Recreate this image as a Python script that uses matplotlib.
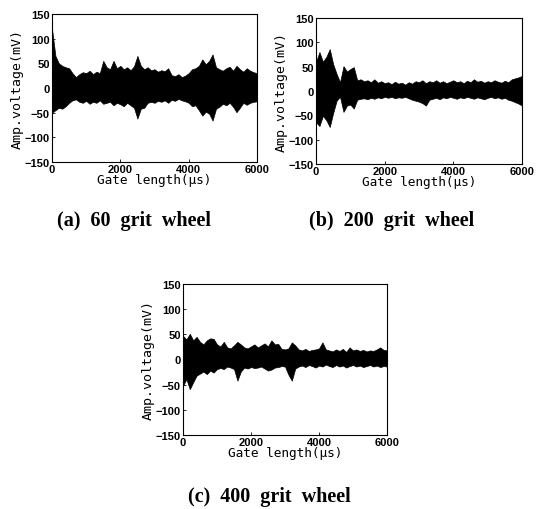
import numpy as np
import matplotlib
matplotlib.use("Agg")
import matplotlib.pyplot as plt

# gate time axis (us), envelope sampled every 100 us
t = np.arange(0, 6001, 100)

# (a) 60 grit wheel - upper / lower envelope of the AE signal (mV)
a_up = [120, 65, 50, 45, 42, 40, 30, 22, 28, 32, 30, 35, 28, 33, 30, 55, 42, 38, 55, 40,
        45, 38, 42, 36, 44, 65, 45, 38, 42, 36, 38, 33, 36, 34, 40, 26, 24, 28, 22, 25,
        30, 38, 40, 45, 58, 48, 55, 68, 42, 38, 35, 40, 43, 35, 45, 38, 33, 40, 35, 32, 30]
a_lo = [-50, -45, -40, -42, -37, -30, -25, -23, -28, -30, -26, -32, -28, -30, -25, -32, -30, -28, -35, -30,
        -33, -37, -30, -35, -40, -62, -42, -40, -30, -28, -30, -26, -28, -25, -30, -24, -26, -22, -25, -27,
        -30, -37, -35, -45, -56, -48, -52, -66, -42, -38, -32, -35, -30, -38, -49, -40, -30, -34, -30, -28, -27]

# (b) 200 grit wheel
b_up = [60, 80, 60, 70, 86, 55, 35, 18, 51, 40, 45, 49, 22, 24, 20, 22, 18, 24, 17, 20,
        16, 18, 14, 19, 15, 17, 13, 18, 15, 20, 18, 22, 16, 20, 18, 22, 17, 20, 16, 19,
        22, 18, 20, 16, 21, 18, 24, 19, 21, 17, 20, 18, 22, 19, 17, 21, 18, 24, 26, 28, 31]
b_lo = [-64, -72, -51, -60, -74, -45, -20, -12, -43, -30, -28, -36, -18, -16, -15, -17, -14, -16, -13, -15,
        -12, -14, -12, -15, -13, -14, -12, -15, -18, -20, -22, -25, -30, -18, -16, -14, -17, -13, -15, -12,
        -14, -16, -13, -15, -12, -14, -16, -13, -15, -17, -14, -12, -15, -13, -16, -14, -18, -20, -23, -26, -30]

# (c) 400 grit wheel
c_up = [47, 40, 51, 38, 45, 35, 30, 38, 42, 41, 30, 26, 35, 24, 22, 28, 35, 30, 24, 22,
        26, 30, 24, 28, 32, 26, 38, 30, 31, 21, 20, 22, 34, 28, 20, 18, 21, 17, 19, 20,
        22, 34, 20, 18, 16, 20, 17, 21, 15, 24, 18, 20, 17, 19, 16, 18, 17, 20, 24, 19, 18]
c_lo = [-52, -39, -59, -45, -32, -28, -24, -29, -22, -26, -19, -17, -19, -14, -16, -19, -42, -24, -16, -18,
        -15, -17, -16, -14, -18, -22, -20, -16, -15, -13, -14, -30, -42, -18, -14, -12, -15, -11, -13, -16,
        -12, -14, -10, -13, -15, -11, -14, -12, -16, -13, -11, -14, -12, -15, -13, -11, -14, -12, -15, -13, -14]

captions = ["(a)  60  grit  wheel", "(b)  200  grit  wheel", "(c)  400  grit  wheel"]
yticks = [-150, -100, -50, 0, 50, 100, 150]
xticks = [0, 2000, 4000, 6000]

fig = plt.figure(figsize=(5.4, 5.1), dpi=100)
boxes = [[0.0963, 0.6804, 0.3796, 0.2902],
         [0.5852, 0.6765, 0.3815, 0.2863],
         [0.3389, 0.1451, 0.3778, 0.2961]]
caption_pos = [(0.248, 0.548), (0.726, 0.548), (0.498, 0.006)]
series = [(a_up, a_lo), (b_up, b_lo), (c_up, c_lo)]

for box, (up, lo), cap, cpos in zip(boxes, series, captions, caption_pos):
    ax = fig.add_axes(box)
    ax.fill_between(t, lo, up, color="black", linewidth=0.5)
    ax.set_xlim(0, 6000)
    ax.set_ylim(-150, 150)
    ax.set_xticks(xticks)
    ax.set_yticks(yticks)
    ax.tick_params(direction="in", length=2, width=0.6, pad=1.5)
    for lbl in ax.get_xticklabels() + ax.get_yticklabels():
        lbl.set_fontfamily("Liberation Sans")
        lbl.set_fontweight("bold")
        lbl.set_fontsize(8)
    for sp in ax.spines.values():
        sp.set_linewidth(0.8)
    ax.set_xlabel("Gate length(\u03bcs)", family="DejaVu Sans Mono", fontsize=9.2, labelpad=-1)
    ax.set_ylabel("Amp.voltage(mV)", family="DejaVu Sans Mono", fontsize=9.5, labelpad=1)
    fig.text(cpos[0], cpos[1], cap, ha="center", va="bottom",
             family="Liberation Serif", fontweight="bold", fontsize=14.5)

fig.savefig("out.png", dpi=100)
